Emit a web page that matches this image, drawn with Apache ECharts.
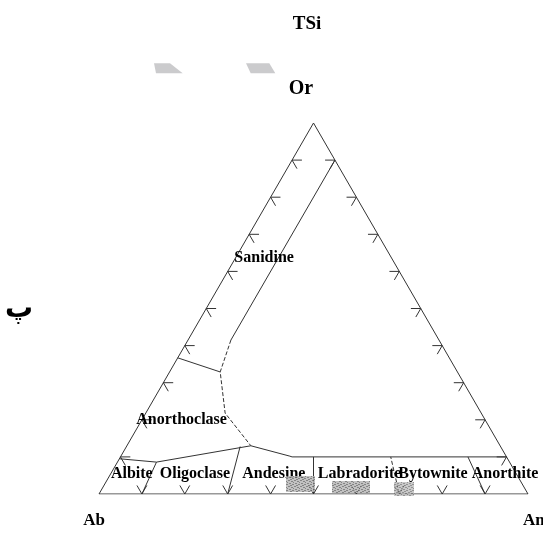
<!DOCTYPE html>
<html><head><meta charset="utf-8">
<script src="https://cdn.jsdelivr.net/npm/echarts@6/dist/echarts.min.js"></script>
<style>html,body{margin:0;padding:0;background:#fff}#c{width:543px;height:539px}</style>
</head><body><div id="c"></div>
<script>
// ternary data as [An, Or] fractions (Ab = 1 - An - Or)
const triangle = [[0,0],[1,0],[0,1],[0,0]];
const tickValues = [0.1,0.2,0.3,0.4,0.5,0.6,0.7,0.8,0.9];
const sanidineLine = [[0.1,0.9],[0.1,0.415]];
const sanidineCurve = [[0.1,0.415],[0.118,0.329],[0.185,0.218],[0.289,0.130]];
const plagioclaseTop = [[0.289,0.130],[0.394,0.102],[0.40,0.1],[0.9,0.1]];
const anorthoclaseTop = [[0,0.367],[0.118,0.329]];
const albiteTop = [[0,0.095],[0.091,0.086],[0.289,0.130]];
const radialLines = [
  [[0.1,0],[0.091,0.086]],
  [[0.3,0],[0.265,0.128]],
  [[0.5,0],[0.45,0.1]],
  [[0.9,0],[0.81,0.1]]
];
const dashedRadial = [[0.7,0],[0.63,0.1]];
const fieldNames = ['Sanidine','Anorthoclase','Albite','Oligoclase','Andesine','Labradorite','Bytownite','Anorthite'];
const fieldAnchors = [[0.067,0.636],[0.092,0.201],[0.050,0.053],[0.197,0.053],[0.381,0.053],[0.581,0.053],[0.752,0.053],[0.920,0.053]];
const cornerLabels = ['TSi','Or','Ab','An','پ'];

const toXY = p => [p[0] + p[1]/2, p[1]];
const T = 0.023;

const lineColor = '#333';
function lineSeries(pts, dashed){
  return {type:'line', data: pts.map(toXY), symbol:'none', silent:true, z:3,
    lineStyle:{color:lineColor, width:1, type: dashed ? [4,2] : 'solid'}, animation:false};
}

const tickData = [];
tickValues.forEach(k => {
  tickData.push({v:[0,k], arms:[[T,k],[T,k-T]]});            // left edge (Ab-Or)
  tickData.push({v:[1-k,k], arms:[[1-k-T,k],[1-k,k-T]]});    // right edge (An-Or)
  tickData.push({v:[k,0], arms:[[k,T],[k-T,T]]});            // bottom edge (Ab-An)
});

const series = [
  lineSeries(triangle,false),
  lineSeries(sanidineLine,false),
  lineSeries(sanidineCurve,true),
  lineSeries(plagioclaseTop,false),
  lineSeries(anorthoclaseTop,false),
  lineSeries(albiteTop,false),
  ...radialLines.map(l => lineSeries(l,false)),
  lineSeries(dashedRadial,true),
  {type:'custom', silent:true, z:3, animation:false,
   data: tickData.map(d => toXY(d.v)),
   renderItem:(params, api) => {
     const d = tickData[params.dataIndex];
     const c = api.coord(toXY(d.v));
     const a = api.coord(toXY(d.arms[0]));
     const b = api.coord(toXY(d.arms[1]));
     return {type:'polyline', shape:{points:[a,c,b]}, style:{stroke:lineColor, lineWidth:1, fill:null}};
   }},
  {type:'scatter', silent:true, z:4, symbolSize:0, animation:false,
   itemStyle:{color:'#000', opacity:1},
   data: fieldNames.map((n,i) => ({name:n, value:toXY(fieldAnchors[i])})),
   label:{show:true, position:'inside', formatter:p=>p.name, color:'#000',
     textBorderWidth:0, textBorderColor:'transparent', opacity:1,
     fontFamily:'Liberation Serif', fontWeight:'bold', fontSize:16}}
];

const pc = document.createElement('canvas'); pc.width = 6; pc.height = 6;
const g = pc.getContext('2d');
g.fillStyle = '#b8b8b8'; g.fillRect(0,0,6,6);
g.fillStyle = '#707070';
[[0,0],[3,1],[1,3],[4,4],[2,5],[5,2]].forEach(p=>g.fillRect(p[0],p[1],2,1));

const chart = echarts.init(document.getElementById('c'), null, {renderer:'canvas'});
chart.setOption({
  backgroundColor:'#fff',
  animation:false,
  grid:{left:99, top:123, width:429, height:371},
  xAxis:{type:'value', min:0, max:1, show:false},
  yAxis:{type:'value', min:0, max:1, show:false},
  series: series,
  graphic:[
    {type:'polygon', z:1, shape:{points:[[154,63.3],[170,63.3],[182.7,73.3],[156,73.3]]}, style:{fill:'#cbcbcd'}},
    {type:'polygon', z:1, shape:{points:[[246,63.3],[269.3,63.3],[275.3,73.3],[250.7,73.3]]}, style:{fill:'#cbcbcd'}},
    {type:'rect', z:100, shape:{x:286,y:476,width:29,height:16}, style:{fill:{image:pc, repeat:'repeat'}, opacity:0.85}},
    {type:'rect', z:100, shape:{x:332,y:481,width:38,height:12}, style:{fill:{image:pc, repeat:'repeat'}, opacity:0.85}},
    {type:'rect', z:100, shape:{x:394,y:482,width:20,height:14}, style:{fill:{image:pc, repeat:'repeat'}, opacity:0.75}},
    {type:'text', z:10, style:{text:cornerLabels[0], x:307, y:24, align:'center', verticalAlign:'middle', font:'bold 19px "Liberation Serif"', fill:'#000'}},
    {type:'text', z:10, style:{text:cornerLabels[1], x:301, y:89, align:'center', verticalAlign:'middle', font:'bold 20px "Liberation Serif"', fill:'#000'}},
    {type:'text', z:10, style:{text:cornerLabels[2], x:94, y:521, align:'center', verticalAlign:'middle', font:'bold 17px "Liberation Serif"', fill:'#000'}},
    {type:'text', z:10, style:{text:cornerLabels[3], x:523, y:521, align:'left', verticalAlign:'middle', font:'bold 17px "Liberation Serif"', fill:'#000'}},
    {type:'text', z:10, style:{text:cornerLabels[4], x:19, y:310, align:'center', verticalAlign:'middle', font:'bold 28px "DejaVu Sans"', fill:'#000'}}
  ]
});
</script></body></html>
